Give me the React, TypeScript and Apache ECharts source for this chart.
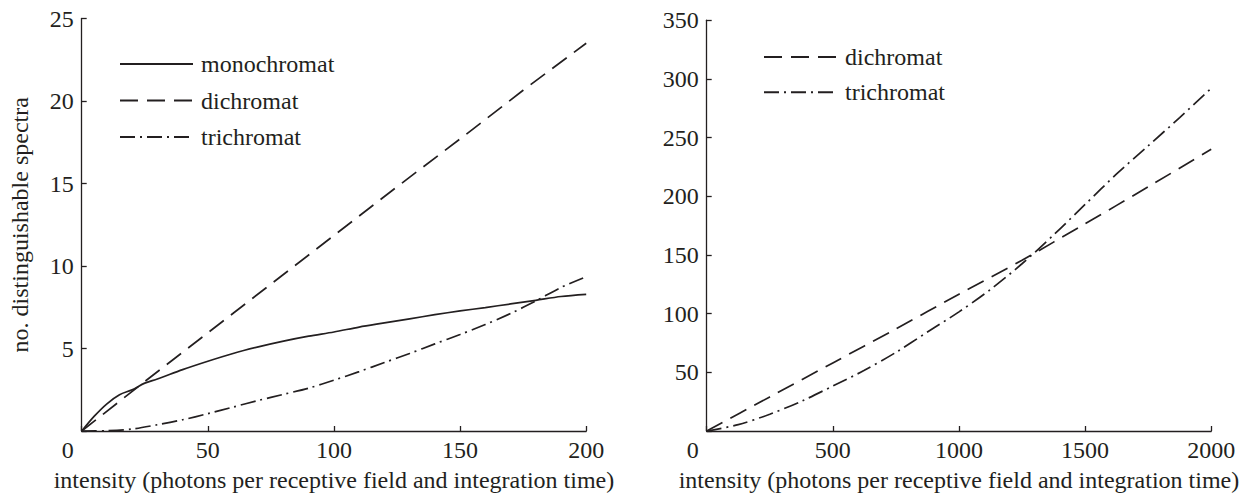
import React, { useEffect, useRef } from "react";
import * as echarts from "echarts";

// Left panel data
const leftMonoX = [0, 5, 10, 15, 20, 25, 30, 40, 50, 60, 70, 80, 90, 100, 110, 120, 130, 140, 150, 160, 170, 180, 190, 200];
const leftMonoY = [0, 0.9, 1.65, 2.2, 2.5, 2.9, 3.15, 3.72, 4.23, 4.7, 5.1, 5.45, 5.75, 6.0, 6.3, 6.55, 6.8, 7.05, 7.28, 7.48, 7.7, 7.92, 8.15, 8.28];
const leftDiX = [0, 25, 50, 75, 100, 125, 150, 175, 200];
const leftDiY = [0, 3.0, 5.95, 8.9, 11.85, 14.8, 17.7, 20.65, 23.5];
const leftTriX = [0, 10, 20, 30, 40, 50, 60, 70, 80, 90, 100, 110, 120, 130, 140, 150, 160, 170, 180, 190, 200];
const leftTriY = [0, 0.02, 0.12, 0.38, 0.68, 1.05, 1.45, 1.85, 2.22, 2.6, 3.08, 3.6, 4.15, 4.7, 5.28, 5.85, 6.45, 7.12, 7.88, 8.7, 9.35];

// Right panel data
const rightDiX = [0, 250, 500, 750, 1000, 1250, 1500, 1750, 2000];
const rightDiY = [0, 29, 58, 87, 116.5, 145.5, 176.5, 208, 240];
const rightTriX = [0, 125, 250, 375, 500, 625, 750, 875, 1000, 1125, 1250, 1375, 1500, 1625, 1750, 1875, 2000];
const rightTriY = [0, 5.4, 14.3, 25.3, 38.3, 51.7, 67, 84.3, 101.5, 120.6, 142.5, 167, 193, 219, 243, 267, 292];

const leftLegend = ["monochromat", "dichromat", "trichromat"];
const rightLegend = ["dichromat", "trichromat"];
const xName = "intensity (photons per receptive field and integration time)";
const yName = "no. distinguishable spectra";

const INK = "#231f20";
const FONT = "Liberation Serif";
const FS = 24;

const pairs = (xs: number[], ys: number[]) => xs.map((x, i) => [x, ys[i]]);

const DASH = [18, 9];
const DASHDOT = [15, 5, 2, 5];

export default function App() {
  const ref = useRef<HTMLDivElement>(null);
  useEffect(() => {
    if (!ref.current) return;
    const chart = echarts.init(ref.current, null, { renderer: "svg" });
    const textStyle = { fontFamily: FONT, fontSize: FS, color: INK };
    const xLabel = {
      ...textStyle,
      margin: 7,
      formatter: (v: number) => (v === 0 ? "{z|0}" : String(v)),
      rich: { z: { ...textStyle, padding: [0, 28, 0, 0] } },
    };
    const yLabel = {
      ...textStyle,
      margin: 8,
      formatter: (v: number) => (v === 0 ? "" : String(v)),
    };
    const axisLine = { show: true, lineStyle: { color: INK, width: 1.3 } };
    const axisTick = { show: true, inside: true, length: 5, lineStyle: { color: INK, width: 1.3 } };
    const mkX = (gi: number, max: number, interval: number) => ({
      type: "value",
      gridIndex: gi,
      min: 0,
      max,
      interval,
      name: xName,
      nameLocation: "middle",
      nameGap: 37,
      nameTextStyle: textStyle,
      axisLine,
      axisTick,
      axisLabel: xLabel,
      splitLine: { show: false },
    });
    const mkY = (gi: number, max: number, interval: number, withName: boolean) => ({
      type: "value",
      gridIndex: gi,
      min: 0,
      max,
      interval,
      name: withName ? yName : "",
      nameLocation: "middle",
      nameGap: 50,
      nameTextStyle: textStyle,
      axisLine,
      axisTick,
      axisLabel: yLabel,
      splitLine: { show: false },
    });
    const line = (name: string, gi: number, data: number[][], type: any, smooth: any) => ({
      type: "line",
      name,
      xAxisIndex: gi,
      yAxisIndex: gi,
      data,
      symbol: "none",
      smooth,
      color: INK,
      lineStyle: { color: INK, width: 1.7, type },
      emphasis: { disabled: true },
    });
    const legendBase = {
      orient: "vertical",
      padding: 0,
      itemWidth: 73,
      itemHeight: 14,
      itemStyle: { opacity: 0, color: "transparent", borderWidth: 0 },
      textStyle: { ...textStyle, padding: [0, 0, 0, 3] },
    };
    chart.setOption({
      animation: false,
      backgroundColor: "#ffffff",
      grid: [
        { left: 81.7, top: 18.5, width: 504.5, height: 412.5 },
        { left: 706.7, top: 20.2, width: 504.5, height: 410.8 },
      ],
      xAxis: [mkX(0, 200, 50), mkX(1, 2000, 500)],
      yAxis: [mkY(0, 25, 5, true), mkY(1, 350, 50, false)],
      legend: [
        { ...legendBase, data: leftLegend, left: 119, top: 52, itemGap: 12.5 },
        { ...legendBase, data: rightLegend, left: 763, top: 45, itemGap: 11.3 },
      ],
      series: [
        line("monochromat", 0, pairs(leftMonoX, leftMonoY), "solid", 0.3),
        line("dichromat", 0, pairs(leftDiX, leftDiY), DASH, false),
        line("trichromat", 0, pairs(leftTriX, leftTriY), DASHDOT, 0.3),
        line("dichromat", 1, pairs(rightDiX, rightDiY), DASH, 0.2),
        line("trichromat", 1, pairs(rightTriX, rightTriY), DASHDOT, 0.3),
      ],
    });
    return () => chart.dispose();
  }, []);
  return (
    <div
      ref={ref}
      style={{ position: "fixed", left: 0, top: 0, width: 1247, height: 499, background: "#fff" }}
    />
  );
}
